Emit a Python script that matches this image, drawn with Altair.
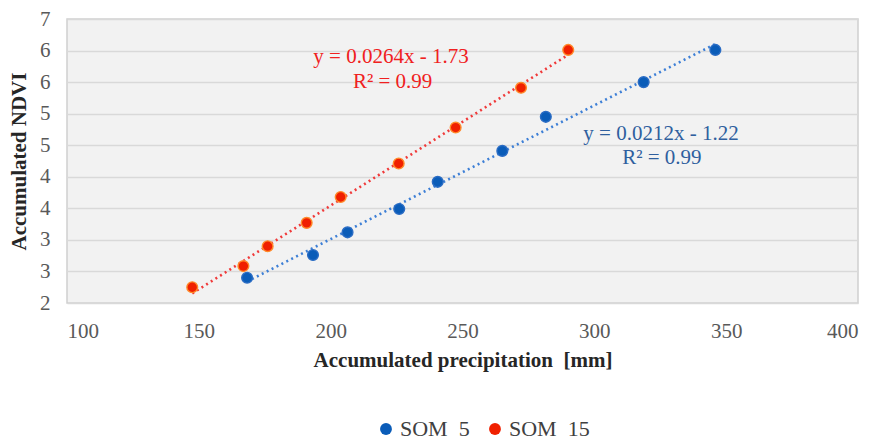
import altair as alt
import pandas as pd

# --- data ---
som5_x = [168.3, 193.3, 206.4, 226.0, 240.6, 265.1, 281.6, 318.7, 345.9]
som5_y = [2.40, 2.76, 3.12, 3.49, 3.92, 4.41, 4.95, 5.50, 6.01]
som15_x = [147.5, 166.9, 176.1, 190.9, 203.8, 225.8, 247.4, 272.2, 290.1]
som15_y = [2.25, 2.585, 2.90, 3.27, 3.68, 4.21, 4.78, 5.41, 6.01]
series_names = ["SOM\u00a0 5", "SOM\u00a0 15"]
x_ticks = [100, 150, 200, 250, 300, 350, 400]
y_ticks = [2, 2.5, 3, 3.5, 4, 4.5, 5, 5.5, 6, 6.5]
red_eq = ["y = 0.0264x - 1.73", "R² = 0.99"]
blue_eq = ["y = 0.0212x - 1.22", "R² = 0.99"]

df = pd.DataFrame({
    "x": som5_x + som15_x,
    "y": som5_y + som15_y,
    "series": [series_names[0]] * len(som5_x) + [series_names[1]] * len(som15_x),
})

SERIF = "Liberation Serif"
fill_scale = alt.Scale(domain=series_names, range=["#0a5cb8", "#f02000"])
edge_colors = ["#2a6cc4", "#ff8a2a"]
line_colors = ["#3d7fd6", "#f03a3a"]

xscale = alt.Scale(domain=[100, 400], nice=False)
yscale = alt.Scale(domain=[2, 6.5], nice=False, zero=False)
xaxis = alt.Axis(values=x_ticks, grid=False, ticks=False, domain=False,
                 labelFont=SERIF, labelFontSize=21, labelColor="#595959",
                 labelPadding=17, title="Accumulated precipitation\u00a0 [mm]",
                 titleFont=SERIF, titleFontSize=21, titleFontWeight="bold",
                 titleColor="#262626", titlePadding=8)
yaxis = alt.Axis(values=y_ticks, grid=True, gridColor="#d9d9d9", gridWidth=1.5,
                 ticks=False, domain=False,
                 labelExpr="'' + floor(datum.value + 0.5)",
                 labelFont=SERIF, labelFontSize=21, labelColor="#595959",
                 labelPadding=17, title="Accumulated NDVI",
                 titleFont=SERIF, titleFontSize=21, titleFontWeight="bold",
                 titleColor="#262626", titlePadding=10)
xenc = alt.X("x:Q", scale=xscale, axis=xaxis)
yenc = alt.Y("y:Q", scale=yscale, axis=yaxis)

base = alt.Chart(df)

layers = []
for name, lc in zip(series_names, line_colors):
    layers.append(
        base.transform_filter(alt.datum.series == name)
        .transform_regression("x", "y")
        .mark_line(strokeDash=[2, 3.5], strokeWidth=2.6, color=lc)
        .encode(x=xenc, y=yenc)
    )

layers.append(base.mark_circle(size=115, opacity=1).encode(
    x=xenc, y=yenc,
    fill=alt.Fill("series:N", scale=fill_scale,
                  legend=alt.Legend(title=None, orient="none", direction="horizontal",
                                    legendX=308, legendY=399, labelFont=SERIF,
                                    labelFontSize=22, labelColor="#404040",
                                    symbolType="circle", symbolSize=140,
                                    columnPadding=14, labelOffset=3)),
))

for name, ec in zip(series_names, edge_colors):
    layers.append(
        base.transform_filter(alt.datum.series == name)
        .mark_point(size=115, opacity=1, filled=False, shape="circle",
                    strokeWidth=1.4, color=ec)
        .encode(x=xenc, y=yenc)
    )

def label(txt, xv, yv, color):
    return alt.Chart(pd.DataFrame({"t": [txt]})).mark_text(
        font=SERIF, fontSize=21, color=color, align="center", baseline="middle"
    ).encode(x=alt.XDatum(xv, scale=xscale, axis=xaxis, type="quantitative"),
             y=alt.YDatum(yv, scale=yscale, axis=yaxis, type="quantitative"),
             text="t:N")

layers += [label(red_eq[0], 222.9, 5.89, "#f02020"), label(red_eq[1], 223.5, 5.50, "#f02020"),
           label(blue_eq[0], 325.3, 4.67, "#2f5f9e"), label(blue_eq[1], 325.6, 4.30, "#2f5f9e")]

chart = alt.layer(*layers).properties(
    width=791, height=284,
    padding={"left": 59, "top": 11, "right": 10, "bottom": 142},
    autosize=alt.AutoSizeParams(type="none"),
    background="white",
).configure(font=SERIF).configure_axis(
    labelFont=SERIF, titleFont=SERIF
).configure_legend(labelFont=SERIF).configure_view(
    fill="#f2f2f2", stroke="#cfcfcf", strokeWidth=1.5)

chart.save("out.html", embed_options={"renderer": "svg", "actions": False})
